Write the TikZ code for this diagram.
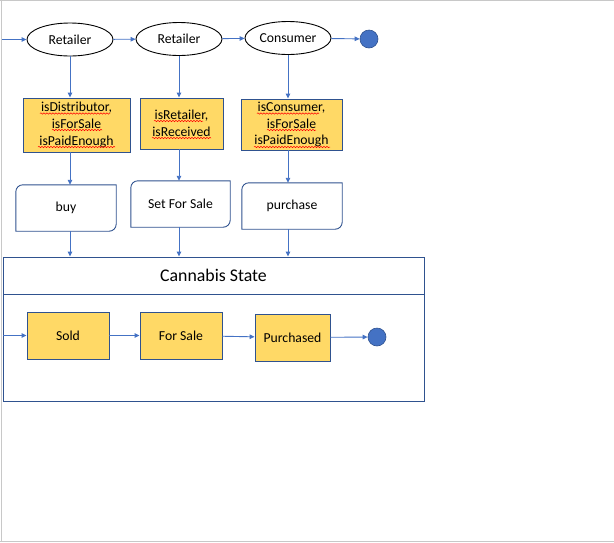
\documentclass[tikz,border=0pt]{standalone}
\usepackage{fontspec}
\setmainfont{Carlito}
\usepackage{tikz}
\usetikzlibrary{positioning}
\usetikzlibrary{shapes.geometric}
\usetikzlibrary{arrows.meta}
\usetikzlibrary{decorations.pathmorphing}

\definecolor{flowblue}{HTML}{4472C4}
\definecolor{edgeblue}{HTML}{2F528F}
\definecolor{guardyellow}{HTML}{FFD966}
\definecolor{framegray}{HTML}{C8C8C8}

\begin{document}
\begin{tikzpicture}[x=1pt,y=-1pt,
  txt/.style={font=\fontsize{13.7}{16.7}\selectfont},
  actor/.style={ellipse,draw=black,line width=0.9pt,minimum width=86pt,minimum height=33pt,inner sep=0pt,txt},
  guard/.style={rectangle,draw=edgeblue,fill=guardyellow,line width=0.9pt,align=center,inner sep=0pt,txt},
  action/.style={rectangle,inner sep=0pt,minimum height=46pt,txt},
  statebox/.style={rectangle,draw=edgeblue,fill=guardyellow,line width=0.9pt,inner sep=0pt,minimum height=47pt,txt},
  final/.style={circle,draw=edgeblue,fill=flowblue,line width=0.6pt,minimum size=18pt,inner sep=0pt},
  flow/.style={draw=flowblue,line width=0.9pt,-{Triangle[length=5pt,width=4.5pt]}},
  outline/.style={draw=edgeblue,line width=0.9pt},
  spellmark/.style={red,line width=0.5pt,decorate,decoration={snake,amplitude=0.7pt,segment length=3pt}}]
\useasboundingbox (0,0) rectangle (614,542);
\draw[framegray,line width=1.2pt] (0,0.6) -- (614,0.6);
\draw[framegray,line width=1.2pt] (1.4,0) -- (1.4,542);
\draw[framegray,line width=1.2pt] (0,541.4) -- (614,541.4);

% actors
\node[actor] (ret1) at (70,39.5) {Retailer};
\node[actor] (ret2) at (179,39) {Retailer};
\node[actor] (cons) at (288,38) {Consumer};
\node[final] (end1) at (369,39) {};
\coordinate (in1) at (2,39.5);

% guards
\node[guard,minimum width=107pt,minimum height=54pt] (g1) at (76.5,125)
  {isDistributor,\\isForSale\\isPaidEnough};
\node[guard,minimum width=83pt,minimum height=51pt] (g2) at (181.5,123.5)
  {isRetailer,\\isReceived};
\node[guard,minimum width=101pt,minimum height=51pt] (g3) at (291.5,124.5)
  {isConsumer,\\isForSale\\isPaidEnough};
% spell check marks
\foreach \xa/\xb/\y in {40/110/113.5,52/102/130,38/115/147,154/203/121,152/211/138,
  257/319/113.5,267/316/130,254/330/147}
{
	\draw[spellmark] (\xa,\y) -- (\xb,\y);
}

% actions
\node[action,minimum width=100pt] (buy) at (66,208) {buy};
\node[action,minimum width=99pt] (setsale) at (180.5,204) {Set For Sale};
\node[action,minimum width=100pt] (purchase) at (292,206) {purchase};
\foreach \a in {buy,setsale,purchase}
{
	\draw[outline] (\a.west) [rounded corners=7pt] -- (\a.north west) -- (\a.north)
	  [sharp corners] -- (\a.north east) -- (\a.east)
	  [rounded corners=7pt] -- (\a.south east) -- (\a.south)
	  [sharp corners] -- (\a.south west) -- cycle;
}

% cannabis state
\node[rectangle,outline,minimum width=421pt,minimum height=37pt,inner sep=0pt,
  font=\fontsize{17.8}{20}\selectfont] (head) at (213.5,275.5) {Cannabis State};
\node[rectangle,outline,minimum width=421pt,minimum height=107pt,inner sep=0pt] (body) at (213.5,347.5) {};
\node[statebox,minimum width=82pt] (sold) at (68,335.5) {Sold};
\node[statebox,minimum width=82pt] (forsale) at (181,335.5) {For Sale};
\node[statebox,minimum width=75pt] (purch) at (292.5,337.5) {Purchased};
\node[final] (end2) at (377,337) {};
\coordinate (in2) at (3,335.5);

\draw[flow] (in1) -- (ret1);
\draw[flow] (ret1) -- (ret2);
\draw[flow] (ret2) -- (cons);
\draw[flow] (cons) -- (end1);
\foreach \a/\g/\b in {ret1/g1/buy,ret2/g2/setsale,cons/g3/purchase}
{
	\draw[flow] (\a.south) -- (\a.south |- \g.north);
	\draw[flow] (\a.south |- \g.south) -- (\a.south |- \b.north);
	\draw[flow] (\a.south |- \b.south) -- (\a.south |- head.north);
}
\draw[flow] (in2) -- (sold);
\draw[flow] (sold) -- (forsale);
\draw[flow] (forsale) -- (purch);
\draw[flow] (purch) -- (end2);

\end{tikzpicture}
\end{document}
